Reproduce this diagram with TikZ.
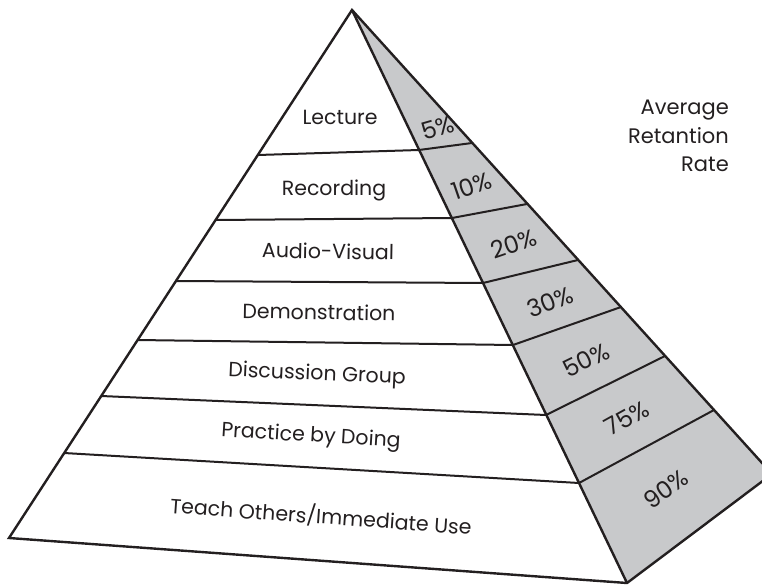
\documentclass[tikz,border=0pt]{standalone}
\usepackage{fontspec}
\setmainfont{Poppins}
\definecolor{ink}{HTML}{231F20}
\definecolor{colgrey}{HTML}{C8C9CB}
\tikzset{
  outline/.style={draw=ink, line width=2.4pt, line join=miter},
  strip/.style={draw=ink, line width=2pt},
  lbl/.style={text=ink, font=\fontsize{20.5}{24}\selectfont, inner sep=0pt},
  pct/.style={text=ink, font=\fontsize{24}{28}\selectfont, inner sep=0pt},
}
\begin{document}
\begin{tikzpicture}[x=1pt,y=-1pt]
\useasboundingbox (0,0) rectangle (762,585);
\clip (0,0) rectangle (762,585);
% key points
\coordinate (A) at (352,10);
\coordinate (L1) at (258,155);
\coordinate (L2) at (216,220);
\coordinate (L3) at (176,281);
\coordinate (L4) at (137,340);
\coordinate (L5) at (101,396);
\coordinate (L6) at (64,453);
\coordinate (L7) at (9,538);
\coordinate (B1) at (419,150);
\coordinate (B2) at (452,218);
\coordinate (B3) at (483,283);
\coordinate (B4) at (513,345);
\coordinate (B5) at (546,415);
\coordinate (B6) at (579,483);
\coordinate (B7) at (627,583);
\coordinate (R1) at (472,143);
\coordinate (R2) at (527,204);
\coordinate (R3) at (578,260);
\coordinate (R4) at (621,307);
\coordinate (R5) at (665,356);
\coordinate (R6) at (714,410);
\coordinate (R7) at (772,474);
% shaded column
\fill[colgrey] (A) -- (B7) -- (R7) -- cycle;
% strip lines
\draw[strip] (L1) -- (B1) -- (R1);
\draw[strip] (L2) -- (B2) -- (R2);
\draw[strip] (L3) -- (B3) -- (R3);
\draw[strip] (L4) -- (B4) -- (R4);
\draw[strip] (L5) -- (B5) -- (R5);
\draw[strip] (L6) -- (B6) -- (R6);
\draw[outline] (A) -- (B7);
\draw[outline] (A) -- (L7) -- (B7) -- (R7) -- cycle;
% labels
\node[lbl] (lec) at (340,117) {Lecture};
\node[lbl] (rec) at (334,190) {Recording};
\node[lbl, rotate=-1] (av) at (328,251) {Audio-Visual};
\node[lbl, rotate=-1] (dem) at (319,312) {Demonstration};
\node[lbl, rotate=-2.5] (dis) at (317,375) {Discussion Group};
\node[lbl, rotate=-3.5] (pra) at (311,437) {Practice by Doing};
\node[lbl, rotate=-4.1] (tea) at (321,516) {Teach Others/Immediate Use};
% percentages
\node[pct, rotate=16] (p5) at (438,128) {5\%};
\node[pct, rotate=19] (p10) at (472,186) {10\%};
\node[pct, rotate=19] (p20) at (514,244) {20\%};
\node[pct, rotate=22] (p30) at (550,302) {30\%};
\node[pct, rotate=26] (p50) at (586,360) {50\%};
\node[pct, rotate=29] (p75) at (627,418) {75\%};
\node[pct, rotate=35] (p90) at (666,489) {90\%};
% legend
\node[lbl, align=right, anchor=north east, font=\fontsize{21}{28.5}\selectfont] (avg) at (729,100) {Average\\Retantion\\Rate};
\end{tikzpicture}
\end{document}
